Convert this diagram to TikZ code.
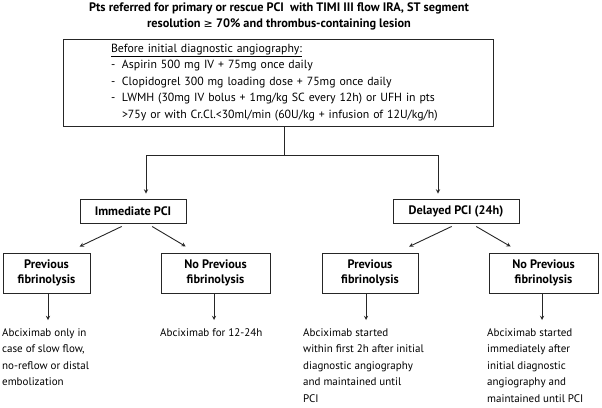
\documentclass[tikz,border=0pt]{standalone}
\usepackage{fontspec}
\setmainfont{PT Sans}
\newfontfamily\symfont{DejaVu Sans}
\tikzset{
	box/.style={draw=black!85,line width=0.9pt,inner sep=0pt,align=center,font=\fontsize{12.3}{15}\selectfont\bfseries},
	mainbox/.style={draw=black!85,line width=0.9pt,inner ysep=0pt,inner xsep=48pt,align=left,font=\fontsize{11.8}{16.5}\selectfont},
	res/.style={anchor=north west,align=left,inner sep=0pt},
	conn/.style={line width=0.9pt,draw=black!85},
	arr/.style={conn,->,shorten >=1pt},
	diagl/.style={conn,->,shorten <=7pt,shorten >=14pt},
	diagr/.style={conn,->,shorten <=6pt,shorten >=12pt},
	>=stealth,
	}

\begin{document}
\begin{tikzpicture}[x=1pt,y=-1pt,font=\fontsize{11}{16.5}\selectfont]
\useasboundingbox (0,0) rectangle (602,407);

\node (title) at (279,16) [align=center,font=\fontsize{12.3}{16}\selectfont\bfseries] {Pts referred for primary or rescue PCI\ \ with TIMI III flow IRA, ST segment\\ resolution {\symfont\mdseries\fontsize{11}{16}\selectfont ≥} 70\% and thrombus-containing lesion};

\node (main) at (278,82.5) [mainbox,minimum width=430,minimum height=87,text width=334] {\underline{Before initial diagnostic angiography:}\\
\makebox[11pt][l]{-}Aspirin 500 mg IV + 75mg once daily\\
\makebox[11pt][l]{-}Clopidogrel 300 mg loading dose + 75mg once daily\\
\makebox[11pt][l]{-}LWMH (30mg IV bolus + 1mg/kg SC every 12h) or UFH in pts\\
\hspace*{11pt}>75y or with Cr.Cl.<30ml/min (60U/kg + infusion of 12U/kg/h)};

\node (imm) at (133,211) [box,minimum width=106,minimum height=24] {Immediate PCI};
\node (del) at (456,211) [box,minimum width=126,minimum height=24] {Delayed PCI (24h)};

\node (pf1) at (46.5,273) [box,minimum width=87,minimum height=40] {Previous\\fibrinolysis};
\node (npf1) at (215.5,273) [box,minimum width=109,minimum height=40] {No Previous\\fibrinolysis};
\node (pf2) at (370,273) [box,minimum width=96,minimum height=40] {Previous\\fibrinolysis};
\node (npf2) at (543.5,273) [box,minimum width=109,minimum height=40] {No Previous\\fibrinolysis};

% outcomes
\node (r1) at (2,328) [res] {Abciximab only in\\case of slow flow,\\no-reflow or distal\\embolization};
\node (r2) at (160,328) [res] {Abciximab for 12-24h};
\node (r3) at (303,328) [res] {Abciximab started\\within first 2h after initial\\diagnostic angiography\\and maintained until\\PCI};
\node (r4) at (487,328) [res] {Abciximab started\\immediately after\\initial diagnostic\\angiography and\\maintained until PCI};

\coordinate (split) at (284,155);
\coordinate (lturn) at (146,155);
\coordinate (rturn) at (438,155);
\draw[conn] (main.south -| split) -- (split);
\draw[conn] (lturn) -- (rturn);
\draw[arr,shorten >=5pt] (lturn) -- (lturn |- imm.north);
\draw[arr,shorten >=5pt] (rturn) -- (rturn |- del.north);

\draw[diagl] ([xshift=-5pt]imm.south) -- ([xshift=20.5pt]pf1.north);
\draw[diagr] ([xshift=14pt]imm.south) -- ([xshift=-19.5pt]npf1.north);
\draw[diagl] ([xshift=2pt]del.south) -- ([xshift=26.5pt]pf2.north);
\draw[diagr] ([xshift=15pt]del.south) -- ([xshift=-22.5pt]npf2.north);

\draw[arr,shorten >=8pt] ([xshift=1.5pt]pf1.south) -- ([xshift=1.5pt]pf1.south |- r1.north);
\draw[arr,shorten >=8pt] ([xshift=-1.5pt]npf1.south) -- ([xshift=-1.5pt]npf1.south |- r2.north);
\draw[arr,shorten >=8pt] ([xshift=-4pt]pf2.south) -- ([xshift=-4pt]pf2.south |- r3.north);
\draw[arr,shorten >=8pt] ([xshift=-1.5pt]npf2.south) -- ([xshift=-1.5pt]npf2.south |- r4.north);
\end{tikzpicture}
\end{document}
